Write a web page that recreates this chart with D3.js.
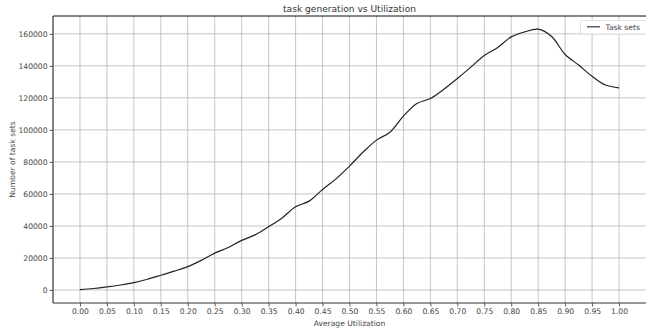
<!DOCTYPE html>
<html>
<head>
<meta charset="utf-8">
<script src="https://cdn.jsdelivr.net/npm/d3@7.9.0/dist/d3.min.js"></script>
<style>
  body { margin: 0; background: #fff; }
  svg { display: block; font-family: 'DejaVu Sans', sans-serif; }
</style>
</head>
<body>
<svg width="646" height="335"></svg>
<script>
// utilization steps (0.025) and task set counts
const utilization = d3.range(0, 41).map((i) => +(i * 0.025).toFixed(3));
const taskSets = [
  200, 900, 1900, 3100, 4600, 6700, 9200, 11800, 14600, 18500,
  23000, 26500, 31000, 34400, 39500, 45000, 52000, 55500, 62800, 69400,
  77400, 86000, 93600, 98500, 108600, 116500, 119600, 125400, 132100, 139200,
  146500, 151500, 158100, 161200, 162900, 158300, 147100, 140500, 133500, 128000,
  126300,
];
const xTicks = d3.range(0, 21).map((i) => i * 0.05);
const yTicks = [0, 20000, 40000, 60000, 80000, 100000, 120000, 140000, 160000];

const margin = { left: 53, top: 16, right: 0, bottom: 32 };
const width = 646, height = 335;

const svg = d3.select('svg');

let x = d3.scaleLinear().domain([-0.05, 1.05]).range([margin.left, width - margin.right]);
let y = d3.scaleLinear().domain([-8150, 171150]).range([height - margin.bottom, margin.top]);

// grid
svg.append('g')
  .selectAll('line')
  .data(xTicks)
  .join('line')
  .attr('x1', (d) => x(d)).attr('x2', (d) => x(d))
  .attr('y1', margin.top).attr('y2', height - margin.bottom)
  .attr('stroke', '#b8b8b8').attr('stroke-width', 0.8);

svg.append('g')
  .selectAll('line')
  .data(yTicks)
  .join('line')
  .attr('x1', margin.left).attr('x2', width)
  .attr('y1', (d) => y(d)).attr('y2', (d) => y(d))
  .attr('stroke', '#b8b8b8').attr('stroke-width', 0.8);

// axes
let xAxis = svg.append('g')
  .attr('transform', `translate(0,${height - margin.bottom})`)
  .call(d3.axisBottom(x).tickValues(xTicks).tickFormat(d3.format('.2f')).tickSize(3.5).tickPadding(2));

let yAxis = svg.append('g')
  .attr('transform', `translate(${margin.left},0)`)
  .call(d3.axisLeft(y).tickValues(yTicks).tickFormat(d3.format('d')).tickSize(3.5).tickPadding(2));

[xAxis, yAxis].forEach((g) => {
  g.select('.domain').attr('stroke', '#333').attr('stroke-width', 1.2);
  g.selectAll('.tick line').attr('stroke', '#333').attr('stroke-width', 0.8);
  g.selectAll('.tick text')
    .attr('fill', '#444')
    .style('font-size', '7.6px')
    .style('font-family', "'DejaVu Sans', sans-serif");
});
xAxis.select('.domain').attr('d', `M${margin.left},0H${width}`);
yAxis.select('.domain').attr('d', `M0,${height - margin.bottom}V${margin.top}`);

// top spine
svg.append('line')
  .attr('x1', margin.left).attr('x2', width)
  .attr('y1', margin.top).attr('y2', margin.top)
  .attr('stroke', '#111').attr('stroke-width', 1);

// line
let line = d3.line()
  .x((d, i) => x(utilization[i]))
  .y((d) => y(d))
  .curve(d3.curveCatmullRom.alpha(0.5));

svg.append('path')
  .attr('d', line(taskSets))
  .attr('fill', 'none')
  .attr('stroke', '#222')
  .attr('stroke-width', 1.2);

// labels
svg.append('text')
  .attr('x', (margin.left + width) / 2).attr('y', 11.5)
  .attr('text-anchor', 'middle')
  .attr('fill', '#333')
  .style('font-size', '9.1px')
  .text('task generation vs Utilization');

svg.append('text')
  .attr('x', (margin.left + width) / 2).attr('y', 326)
  .attr('text-anchor', 'middle')
  .attr('fill', '#444')
  .style('font-size', '7.6px')
  .text('Average Utilization');

svg.append('text')
  .attr('transform', `translate(15,${(margin.top + height - margin.bottom) / 2}) rotate(-90)`)
  .attr('text-anchor', 'middle')
  .attr('fill', '#444')
  .style('font-size', '7.6px')
  .text('Number of task sets');

// legend
let legend = svg.append('g').attr('transform', 'translate(580,20)');
legend.append('rect')
  .attr('x', 0.5).attr('y', 0.5).attr('width', 70).attr('height', 13.5)
  .attr('rx', 2)
  .attr('fill', '#fff').attr('fill-opacity', 0.85)
  .attr('stroke', '#ddd').attr('stroke-width', 0.8);
legend.append('line')
  .attr('x1', 7).attr('x2', 20).attr('y1', 6.8).attr('y2', 6.8)
  .attr('stroke', '#444').attr('stroke-width', 1.3);
legend.append('text')
  .attr('x', 25.5).attr('y', 9.6)
  .attr('fill', '#444')
  .style('font-size', '7.6px')
  .text('Task sets');
</script>
</body>
</html>
